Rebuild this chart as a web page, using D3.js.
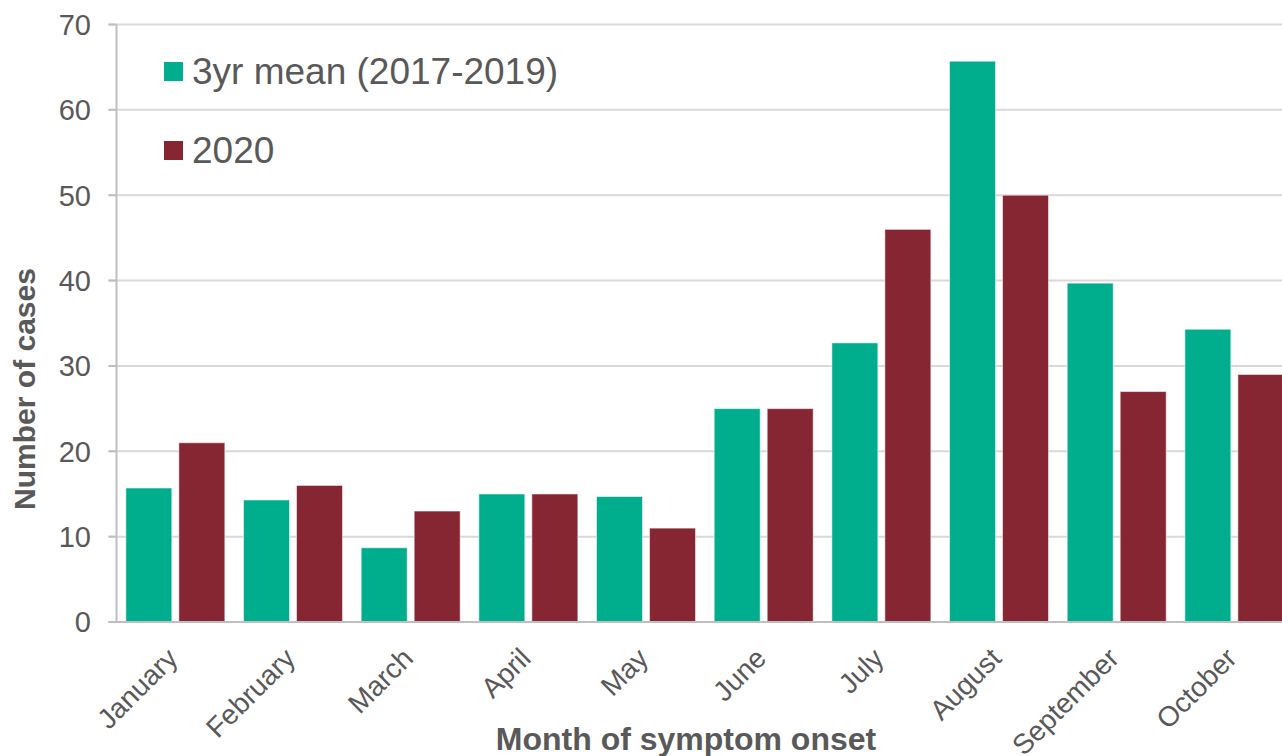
<!DOCTYPE html>
<html>
<head>
<meta charset="utf-8">
<script src="https://cdn.jsdelivr.net/npm/d3@7"></script>
<style>
  body { margin: 0; background: #fff; }
  svg { display: block; font-family: "Liberation Sans", Arial, sans-serif; }
</style>
</head>
<body>
<div id="chart"></div>
<script>
const months = ['January', 'February', 'March', 'April', 'May', 'June', 'July', 'August', 'September', 'October']
const seriesNames = ['3yr mean (2017-2019)', '2020']
const meanValues = [15.7, 14.3, 8.7, 15, 14.7, 25, 32.7, 65.7, 39.7, 34.3]
const values2020 = [21, 16, 13, 15, 11, 25, 46, 50, 27, 29]
const yTicks = [0, 10, 20, 30, 40, 50, 60, 70]

const colors = ['#00ae8e', '#862633']
const textColor = '#595959'
const width = 1282, height = 756
const plotLeft = 116.5, plotBottom = 622, plotTop = 24.5
const step = 117.67

const rows = months.map((m, i) => ({ month: m, vals: [meanValues[i], values2020[i]] }))

const svg = d3.select('#chart')
  .append('svg')
  .attr('width', width)
  .attr('height', height)

const x0 = d3.scaleBand()
  .domain(months)
  .range([plotLeft, plotLeft + step * months.length])

const x1 = d3.scaleBand()
  .domain([0, 1])
  .range([0, x0.bandwidth()])
  .paddingInner(0.132)
  .paddingOuter(0.176)

const y = d3.scaleLinear()
  .domain([0, 70])
  .range([plotBottom, plotTop])

// gridlines
svg.append('g')
  .selectAll('line')
  .data(yTicks.filter(t => t > 0))
  .enter().append('line')
    .attr('x1', plotLeft - 8)
    .attr('x2', width)
    .attr('y1', d => y(d))
    .attr('y2', d => y(d))
    .attr('stroke', '#d9d9d9')
    .attr('stroke-width', 2)

// bars
const group = svg.append('g')
  .selectAll('g')
  .data(rows)
  .enter().append('g')
    .attr('transform', d => `translate(${x0(d.month)},0)`)

group.selectAll('rect')
  .data(d => d.vals)
  .enter().append('rect')
    .attr('x', (d, i) => x1(i))
    .attr('y', d => y(d))
    .attr('width', x1.bandwidth())
    .attr('height', d => plotBottom - y(d))
    .attr('fill', (d, i) => colors[i])
    .attr('stroke', 'rgba(255,255,255,0.55)')
    .attr('stroke-width', 1)

// axis lines
svg.append('line')
  .attr('x1', plotLeft).attr('x2', plotLeft)
  .attr('y1', plotTop).attr('y2', plotBottom)
  .attr('stroke', '#bfbfbf').attr('stroke-width', 2)

svg.append('line')
  .attr('x1', plotLeft - 8).attr('x2', width)
  .attr('y1', plotBottom).attr('y2', plotBottom)
  .attr('stroke', '#bfbfbf').attr('stroke-width', 2)

svg.append('g')
  .selectAll('line')
  .data(yTicks)
  .enter().append('line')
    .attr('x1', plotLeft - 8).attr('x2', plotLeft)
    .attr('y1', d => y(d)).attr('y2', d => y(d))
    .attr('stroke', '#bfbfbf').attr('stroke-width', 2)

// y tick labels
svg.append('g')
  .selectAll('text')
  .data(yTicks)
  .enter().append('text')
    .attr('x', 91)
    .attr('y', d => y(d))
    .attr('dy', '0.36em')
    .attr('text-anchor', 'end')
    .attr('font-size', 29)
    .attr('fill', textColor)
    .text(d => d)

// month labels
svg.append('g')
  .selectAll('text')
  .data(months)
  .enter().append('text')
    .attr('transform', d => `translate(${x0(d) + x0.bandwidth() / 2 + 4},${plotBottom + 38}) rotate(-45)`)
    .attr('text-anchor', 'end')
    .attr('font-size', 28)
    .attr('fill', textColor)
    .text(d => d)

// axis titles
svg.append('text')
  .attr('x', 686)
  .attr('y', 750)
  .attr('text-anchor', 'middle')
  .attr('font-size', 32)
  .attr('font-weight', 'bold')
  .attr('fill', textColor)
  .text('Month of symptom onset')

svg.append('text')
  .attr('transform', 'translate(35,389) rotate(-90)')
  .attr('text-anchor', 'middle')
  .attr('font-size', 30)
  .attr('font-weight', 'bold')
  .attr('fill', textColor)
  .text('Number of cases')

// legend
const legend = svg.append('g')
  .selectAll('g')
  .data(seriesNames)
  .enter().append('g')
    .attr('transform', (d, i) => `translate(164,${62 + i * 79})`)

legend.append('rect')
  .attr('width', 19)
  .attr('height', 19)
  .attr('fill', (d, i) => colors[i])

legend.append('text')
  .attr('x', 28)
  .attr('y', 22)
  .attr('font-size', 37)
  .attr('fill', textColor)
  .text(d => d)
</script>
</body>
</html>
